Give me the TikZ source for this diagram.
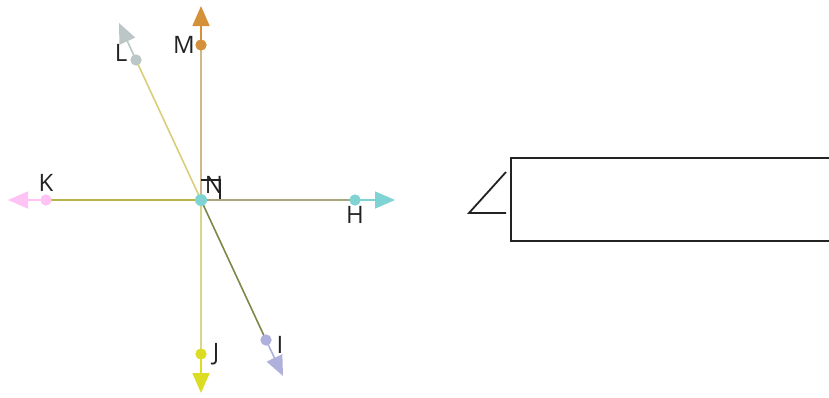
\documentclass[tikz,border=0pt]{standalone}
\usepackage{fontspec}
\setmainfont{Open Sans}
\usetikzlibrary{arrows.meta}
\definecolor{cN}{HTML}{7FD3D3}
\definecolor{cM}{HTML}{D4913A}
\definecolor{cML}{HTML}{D2B78A}
\definecolor{cL}{HTML}{BCC6C6}
\definecolor{cLL}{HTML}{D9CE78}
\definecolor{cK}{HTML}{FFC2F4}
\definecolor{cKL}{HTML}{B8B448}
\definecolor{cHL}{HTML}{A8A47E}
\definecolor{cJ}{HTML}{DCDC22}
\definecolor{cJL}{HTML}{D6D68C}
\definecolor{cI}{HTML}{B0B0DC}
\definecolor{cIL}{HTML}{7A8848}
\definecolor{txt}{HTML}{222222}
\tikzset{
  pt/.style={circle,inner sep=0pt,minimum size=11pt,fill=#1},
  lbl/.style={font=\fontsize{24}{24}\selectfont,text=txt,inner sep=0pt},
  conn/.style={line width=1.6pt,draw=#1},
  arr/.style={line width=1.6pt,draw=#1,-{Triangle[length=20pt,width=17pt,fill=#1]}},
  blk/.style={line width=1.8pt,draw=txt},
}
\begin{document}
\begin{tikzpicture}[x=1pt,y=-1pt]
\useasboundingbox (0,0) rectangle (829,397);
% coordinates
\coordinate (Mt) at (201,6);
\coordinate (Lt) at (119,23);
\coordinate (Kt) at (8,200);
\coordinate (Ht) at (395,200);
\coordinate (Jt) at (201,393);
\coordinate (It) at (283,376);
% dots
\node[pt=cM] (M) at (201,45) {};
\node[pt=cL] (L) at (136,60) {};
\node[pt=cK] (K) at (46,200) {};
\node[pt=cN] (H) at (355,200) {};
\node[pt=cJ] (J) at (201,354) {};
\node[pt=cI] (I) at (266,340) {};
\coordinate (C) at (201,200);
% connectors
\draw[conn=cML] (C) -- (M.center);
\draw[conn=cLL] (C) -- (L.center);
\draw[conn=cKL] (C) -- (K.center);
\draw[conn=cHL] (C) -- (H.center);
\draw[conn=cJL] (C) -- (J.center);
\draw[conn=cIL] (C) -- (I.center);
% arrows
\draw[arr=cM] (M.center) -- (Mt);
\draw[arr=cL] (L.center) -- (Lt);
\draw[arr=cK] (K.center) -- (Kt);
\draw[arr=cN] (H.center) -- (Ht);
\draw[arr=cJ] (J.center) -- (Jt);
\draw[arr=cI] (I.center) -- (It);
% redraw dots on top
\node[pt=cM] at (M) {};
\node[pt=cL] at (L) {};
\node[pt=cK] at (K) {};
\node[pt=cN] at (H) {};
\node[pt=cJ] at (J) {};
\node[pt=cI] at (I) {};
\node[pt=cN,minimum size=12pt] (N) at (C) {};
% right angle mark
\draw[blk] (201,180) -- (220,180) -- (220,199);
% labels
\node[lbl] (lM) at (184,45) {M};
\node[lbl] (lL) at (121,53) {L};
\node[lbl] (lK) at (46,183) {K};
\node[lbl] (lH) at (355,215) {H};
\node[lbl] (lJ) at (216,354) {J};
\node[lbl] (lI) at (280,345) {I};
\node[lbl] (lN) at (214,185) {N};
% right figure
\draw[blk] (506,172) -- (469,213) -- (506,213);
\draw[blk] (835,158) -- (511,158) -- (511,241) -- (835,241);
\end{tikzpicture}
\end{document}
